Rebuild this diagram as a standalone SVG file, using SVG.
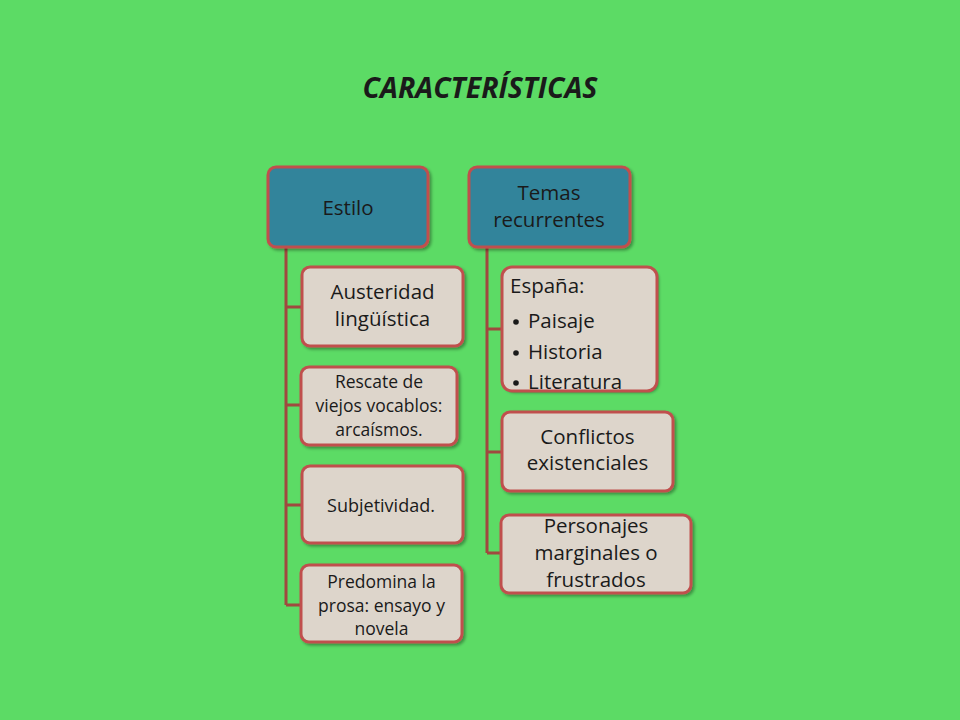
<svg xmlns="http://www.w3.org/2000/svg" width="960" height="720" viewBox="0 0 960 720">
<defs>
<filter id="sh" x="-10%" y="-10%" width="125%" height="130%">
<feDropShadow dx="2" dy="2" stdDeviation="1.8" flood-color="#000" flood-opacity="0.35"/>
</filter>
<style>
.hdr{fill:#31849B;stroke:#C0504D;stroke-width:3;filter:url(#sh)}
.box{fill:#DDD5CB;stroke:#C0504D;stroke-width:3;filter:url(#sh)}
.t{font-family:"Open Sans","Noto Sans","DejaVu Sans",sans-serif;fill:#1a1a1a;text-anchor:middle}
.l{text-anchor:start}
.m{font-size:20.5px}
.s{font-size:17.5px}
.conn{stroke:#A0493F;stroke-width:3;fill:none}
</style>
</defs>
<rect width="960" height="720" fill="#5CDB65"/>
<text x="480" y="98" class="t" font-size="28.5" font-weight="bold" font-style="italic" fill="#111">CARACTERÍSTICAS</text>

<g id="connectors">
<path class="conn" d="M286 247V605M286 307H302M286 405H301M286 505H302M286 605H301"/>
<path class="conn" d="M487 247V553M487 329H502M487 452H502M487 553H501"/>
</g>

<g id="estilo">
<rect class="hdr" x="268" y="167" width="160" height="80" rx="8"/>
<text class="t m" x="348" y="215">Estilo</text>
</g>
<g id="temas">
<rect class="hdr" x="469" y="167" width="161" height="80" rx="8"/>
<text class="t m" x="549" y="200">Temas</text>
<text class="t m" x="549" y="227">recurrentes</text>
</g>

<g id="austeridad">
<rect class="box" x="302" y="267" width="161" height="79" rx="8"/>
<text class="t m" x="382.5" y="299">Austeridad</text>
<text class="t m" x="382.5" y="326">lingüística</text>
</g>
<g id="rescate">
<rect class="box" x="301" y="367" width="156" height="78" rx="8"/>
<text class="t s" x="379" y="388">Rescate de</text>
<text class="t s" x="379" y="412">viejos vocablos:</text>
<text class="t s" x="379" y="436">arcaísmos.</text>
</g>
<g id="subjetividad">
<rect class="box" x="302" y="466" width="161" height="77" rx="8"/>
<text class="t" font-size="18" x="381" y="512">Subjetividad.</text>
</g>
<g id="predomina">
<rect class="box" x="301" y="565" width="161" height="77" rx="8"/>
<text class="t s" x="381.5" y="587.5">Predomina la</text>
<text class="t s" x="381.5" y="611.5">prosa: ensayo y</text>
<text class="t s" x="381.5" y="635">novela</text>
</g>

<g id="espana">
<rect x="502" y="267" width="155" height="124" rx="10" fill="#DDD5CB" filter="url(#sh)"/>
<text class="t m l" x="510" y="293">España:</text>
<circle cx="516" cy="322" r="2.8" fill="#1a1a1a"/>
<text class="t m l" x="528" y="328">Paisaje</text>
<circle cx="516" cy="353" r="2.8" fill="#1a1a1a"/>
<text class="t m l" x="528" y="359">Historia</text>
<circle cx="516" cy="383" r="2.8" fill="#1a1a1a"/>
<text class="t m l" x="528" y="389">Literatura</text>
<rect x="502" y="267" width="155" height="124" rx="10" fill="none" stroke="#C0504D" stroke-width="3"/>
</g>
<g id="conflictos">
<rect class="box" x="502" y="412" width="171" height="79" rx="8"/>
<text class="t m" x="587.5" y="444">Conflictos</text>
<text class="t m" x="587.5" y="470">existenciales</text>
</g>
<g id="personajes">
<rect class="box" x="501" y="515" width="190" height="78" rx="8"/>
<text class="t m" x="596" y="533">Personajes</text>
<text class="t m" x="596" y="560">marginales o</text>
<text class="t m" x="596" y="587">frustrados</text>
</g>
</svg>
